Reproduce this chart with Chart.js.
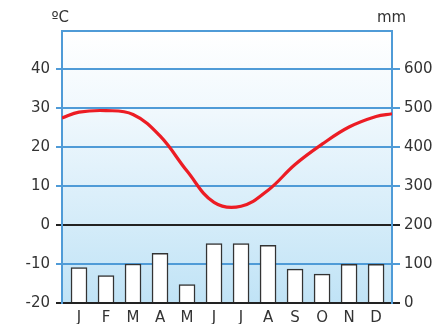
<!DOCTYPE html>
<html>
<head>
<meta charset="utf-8">
<script src="https://cdn.jsdelivr.net/npm/chart.js@4.4.0/dist/chart.umd.min.js"></script>
<style>
  html, body { margin: 0; padding: 0; background: #fff; }
  #wrap { width: 442px; height: 324px; position: relative; }
</style>
</head>
<body>
<div id="wrap"><canvas id="chart"></canvas></div>
<script>
// climograma - temperatura (ºC) y precipitación (mm)

const months = ['J', 'F', 'M', 'A', 'M', 'J', 'J', 'A', 'S', 'O', 'N', 'D'];
const rain = [91, 70, 100, 127, 47, 152, 152, 148, 87, 74, 99, 99];
const temp = [28.9, 29.3, 28.3, 22.8, 13.8, 5.8, 4.8, 8.9, 15.5, 20.7, 25.1, 27.8];
// curve continues to the frame edges
const tempStart = 27.4;
const tempEnd = 28.5;
const tempTicks = [-20, -10, 0, 10, 20, 30, 40];
const rainTicks = [0, 100, 200, 300, 400, 500, 600];

// month slots are not quite centred in the frame
const X_MIN = -0.13;
const X_MAX = 12.09;

const BLUE = '#4f9bd7';
const DARK = '#222';
const FONT = { family: 'DejaVu Sans', size: 15 };

const bars = months.map((m, i) => ({ x: i + 0.5, y: rain[i] }));
const line = [{ x: X_MIN, y: tempStart }]
  .concat(months.map((m, i) => ({ x: i + 0.5, y: temp[i] })))
  .concat([{ x: X_MAX, y: tempEnd }]);

const frame = {
  id: 'frame',
  beforeDraw(chart) {
    const { ctx, chartArea: a } = chart;
    const g = ctx.createLinearGradient(0, a.top, 0, a.bottom);
    g.addColorStop(0, '#ffffff');
    g.addColorStop(0.3, '#f0f8fd');
    g.addColorStop(1, '#c0e3f6');
    ctx.save();
    ctx.fillStyle = g;
    ctx.fillRect(a.left, a.top, a.right - a.left, a.bottom - a.top);
    ctx.restore();
  },
  afterDraw(chart) {
    const { ctx, chartArea: a } = chart;
    ctx.save();
    ctx.strokeStyle = BLUE;
    ctx.lineWidth = 2;
    ctx.beginPath();
    ctx.moveTo(a.left, a.top);
    ctx.lineTo(a.right, a.top);
    ctx.stroke();
    ctx.fillStyle = '#333';
    ctx.font = '15px "DejaVu Sans"';
    ctx.textBaseline = 'bottom';
    ctx.textAlign = 'right';
    ctx.fillText('ºC', a.left + 7, a.top - 5);
    ctx.textAlign = 'left';
    ctx.fillText('mm', a.right - 15, a.top - 5);
    ctx.restore();
  }
};

const gridColor = (ctx) => (ctx.tick && (ctx.tick.value === 0 || ctx.tick.value === -20)) ? DARK : BLUE;
const gridColorR = (ctx) => (ctx.tick && (ctx.tick.value === 0 || ctx.tick.value === 200)) ? DARK : BLUE;

new Chart(document.getElementById('chart'), {
  data: {
    datasets: [
      {
        type: 'line',
        data: line,
        yAxisID: 'y',
        borderColor: '#ec1c24',
        borderWidth: 3.2,
        pointRadius: 0,
        tension: 0.4,
        order: 0
      },
      {
        type: 'bar',
        data: bars,
        yAxisID: 'y1',
        backgroundColor: '#ffffff',
        borderColor: '#333',
        borderWidth: 1.5,
        barThickness: 16,
        order: 1
      }
    ]
  },
  options: {
    responsive: true,
    maintainAspectRatio: false,
    animation: false,
    layout: { padding: { top: 31, left: 0, right: 0, bottom: 0 } },
    plugins: { legend: { display: false }, tooltip: { enabled: false } },
    scales: {
      x: {
        type: 'linear',
        offset: false,
        min: X_MIN,
        max: X_MAX,
        afterBuildTicks: (s) => { s.ticks = months.map((m, i) => ({ value: i + 0.5 })); },
        afterFit: (s) => { s.height = 21; },
        ticks: {
          autoSkip: false,
          maxRotation: 0,
          padding: 6,
          color: '#333',
          font: FONT,
          callback: (v, i) => months[i]
        },
        grid: { display: false, drawTicks: false, tickLength: 0 },
        border: { color: DARK, width: 2 }
      },
      y: {
        position: 'left',
        min: -20,
        max: 49.7,
        afterBuildTicks: (s) => { s.ticks = tempTicks.map(v => ({ value: v })); },
        afterFit: (s) => { s.width = 62; },
        ticks: { color: '#333', font: FONT, padding: 6 },
        grid: { color: gridColor, lineWidth: 2, tickLength: 6 },
        border: { color: BLUE, width: 2 }
      },
      y1: {
        position: 'right',
        min: 0,
        max: 697,
        afterBuildTicks: (s) => { s.ticks = rainTicks.map(v => ({ value: v })); },
        afterFit: (s) => { s.width = 50; },
        ticks: { color: '#333', font: FONT, padding: 4 },
        grid: { color: gridColorR, lineWidth: 2, tickLength: 8, drawOnChartArea: false },
        border: { color: BLUE, width: 2 }
      }
    }
  },
  plugins: [frame]
});
</script>
</body>
</html>
